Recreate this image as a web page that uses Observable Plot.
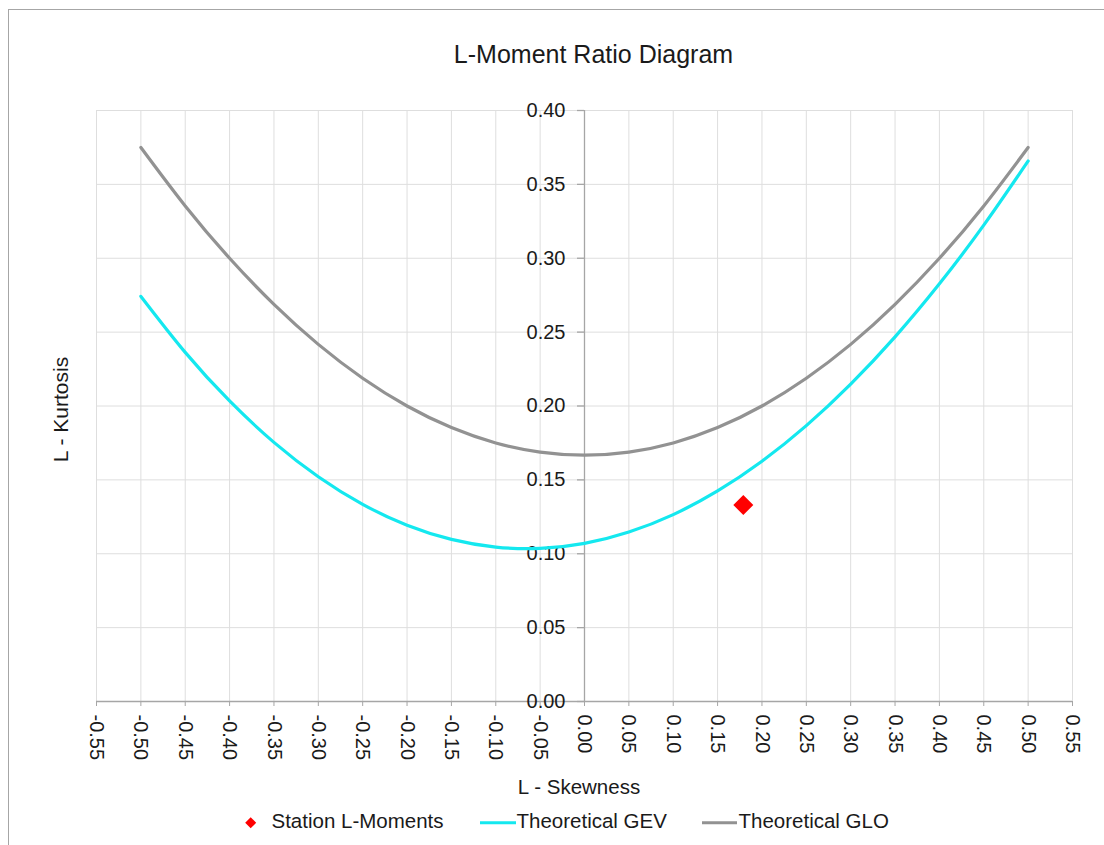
<!DOCTYPE html>
<html>
<head>
<meta charset="utf-8">
<script src="https://cdn.jsdelivr.net/npm/d3@7"></script>
<script src="https://cdn.jsdelivr.net/npm/@observablehq/plot@0.6"></script>
<style>
  html, body { margin: 0; padding: 0; background: #fff; width: 1104px; height: 845px; overflow: hidden; }
  #wrap { position: relative; width: 1104px; height: 845px; font-family: "Liberation Sans", Arial, sans-serif; color: #1a1a1a; }
  #border { position: absolute; left: 8px; top: 9px; width: 1200px; height: 1000px; border: 1.5px solid #a6a6a6; box-sizing: border-box; }
  #chart { position: absolute; left: 0; top: 0; }
  .txt { position: absolute; white-space: nowrap; }
  #title { left: 0; width: 1187px; top: 42px; text-align: center; font-size: 25px; line-height: 25px; }
  #xtitle { left: 379px; width: 400px; top: 777px; text-align: center; font-size: 20.5px; line-height: 20.5px; }
  #ytitle { left: -40px; width: 200px; top: 399px; height: 21px; text-align: center; font-size: 21px; line-height: 21px; transform: rotate(-90deg); }
  #legend { position: absolute; left: 0; top: 0; width: 1104px; height: 845px; pointer-events: none; }
  .leg { position: absolute; top: 811px; font-size: 20.5px; line-height: 20.5px; white-space: nowrap; }
</style>
</head>
<body>
<div id="wrap">
  <div id="border"></div>
  <div id="chart"></div>
  <div id="title" class="txt">L-Moment Ratio Diagram</div>
  <div id="xtitle" class="txt">L - Skewness</div>
  <div id="ytitle" class="txt">L - Kurtosis</div>
  <div id="legend"></div>
</div>
<script>
// ---- data ----
const xTicks = [-0.55, -0.50, -0.45, -0.40, -0.35, -0.30, -0.25, -0.20, -0.15, -0.10, -0.05, 0.00, 0.05, 0.10, 0.15, 0.20, 0.25, 0.30, 0.35, 0.40, 0.45, 0.50, 0.55];
const yTicks = [0.00, 0.05, 0.10, 0.15, 0.20, 0.25, 0.30, 0.35, 0.40];

const skewness = [-0.50, -0.45, -0.40, -0.35, -0.30, -0.25, -0.20, -0.15, -0.10, -0.05, 0.00, 0.05, 0.10, 0.15, 0.20, 0.25, 0.30, 0.35, 0.40, 0.45, 0.50];
const kurtosisGEV = [0.2742, 0.2363, 0.2034, 0.1754, 0.1521, 0.1334, 0.1193, 0.1097, 0.1045, 0.1036, 0.1070, 0.1147, 0.1265, 0.1425, 0.1626, 0.1867, 0.2148, 0.2468, 0.2827, 0.3224, 0.3658];
const kurtosisGLO = [0.3750, 0.3354, 0.3000, 0.2688, 0.2417, 0.2188, 0.2000, 0.1854, 0.1750, 0.1688, 0.1667, 0.1688, 0.1750, 0.1854, 0.2000, 0.2188, 0.2417, 0.2688, 0.3000, 0.3354, 0.3750];

const stationSkewness = [0.179];
const stationKurtosis = [0.133];

const seriesNames = ["Station L-Moments", "Theoretical GEV", "Theoretical GLO"];
const seriesColors = ["#ff0000", "#14e8ef", "#929292"];

// ---- build tables ----
const gev = skewness.map((s, i) => ({s, k: kurtosisGEV[i]}));
const glo = skewness.map((s, i) => ({s, k: kurtosisGLO[i]}));
const station = stationSkewness.map((s, i) => ({s, k: stationKurtosis[i]}));

const fmt = d => (Math.abs(d) < 1e-9 ? 0 : d).toFixed(2);
const axisColor = "#a6a6a6";
const gridColor = "#dedede";
const textColor = "#1a1a1a";

const chart = Plot.plot({
  width: 1104,
  height: 845,
  marginLeft: 96,
  marginRight: 32,
  marginTop: 110,
  marginBottom: 144,
  style: {fontFamily: '"Liberation Sans", Arial, sans-serif', fontSize: "20px", background: "transparent", color: textColor},
  x: {domain: [-0.55, 0.55]},
  y: {domain: [0, 0.40], axis: null},
  marks: [
    Plot.gridX(xTicks, {stroke: gridColor, strokeOpacity: 1}),
    Plot.gridY(yTicks, {stroke: gridColor, strokeOpacity: 1}),
    Plot.axisX(xTicks, {
      tickRotate: 90, tickSize: 5, tickPadding: 8, tickFormat: fmt,
      stroke: axisColor, fill: textColor, fontSize: 20, label: null
    }),
    Plot.ruleY([0], {stroke: axisColor, strokeWidth: 1.3}),
    Plot.ruleX([0], {y1: 0, y2: 0.40, stroke: axisColor, strokeWidth: 1.3}),
    Plot.ruleY(yTicks, {y: d => d, x1: 0, x2: 0, insetLeft: -7, stroke: axisColor, strokeWidth: 1.3}),
    Plot.text(yTicks, {x: 0, y: d => d, text: fmt, textAnchor: "end", dx: -19, fontSize: 20, fill: textColor}),
    Plot.line(glo, {x: "s", y: "k", curve: "natural", stroke: seriesColors[2], strokeWidth: 3.2}),
    Plot.line(gev, {x: "s", y: "k", curve: "natural", stroke: seriesColors[1], strokeWidth: 3.2}),
    Plot.dot(station, {x: "s", y: "k", symbol: "diamond2", r: 9, fill: seriesColors[0], stroke: "none"})
  ]
});
document.getElementById("chart").appendChild(chart);

// ---- legend ----
const legend = document.getElementById("legend");
const ns = "http://www.w3.org/2000/svg";
const legSvg = document.createElementNS(ns, "svg");
legSvg.setAttribute("width", 1104);
legSvg.setAttribute("height", 845);
legSvg.style.position = "absolute";
legSvg.style.left = "0";
legSvg.style.top = "0";
const dia = document.createElementNS(ns, "path");
dia.setAttribute("d", "M250.7,817.2L256.2,822.7L250.7,828.2L245.2,822.7Z");
dia.setAttribute("fill", seriesColors[0]);
legSvg.appendChild(dia);
[[480, 516, seriesColors[1]], [702, 737, seriesColors[2]]].forEach(([a, b, c]) => {
  const l = document.createElementNS(ns, "line");
  l.setAttribute("x1", a); l.setAttribute("x2", b);
  l.setAttribute("y1", 822.7); l.setAttribute("y2", 822.7);
  l.setAttribute("stroke", c); l.setAttribute("stroke-width", 3);
  legSvg.appendChild(l);
});
legend.appendChild(legSvg);
[[271.5, seriesNames[0]], [516.5, seriesNames[1]], [738.5, seriesNames[2]]].forEach(([x, t]) => {
  const d = document.createElement("div");
  d.className = "leg";
  d.style.left = x + "px";
  d.textContent = t;
  legend.appendChild(d);
});
</script>
</body>
</html>
